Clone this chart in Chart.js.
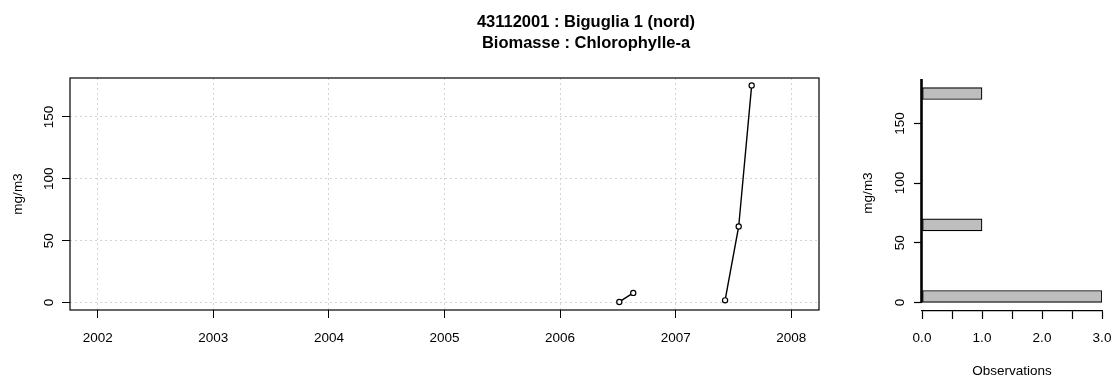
<!DOCTYPE html>
<html>
<head>
<meta charset="utf-8">
<title>43112001 : Biguglia 1 (nord)</title>
<script src="https://cdn.jsdelivr.net/npm/chart.js@4.4.1/dist/chart.umd.min.js"></script>
<style>
  html, body { margin: 0; padding: 0; background: #fff; }
  #wrap { position: relative; width: 1114px; height: 378px; overflow: hidden; }
  #serie { position: absolute; left: 0; top: 0; }
  #histo { position: absolute; left: 840px; top: 0; }
</style>
</head>
<body>
<div id="wrap">
  <canvas id="serie" width="840" height="378"></canvas>
  <canvas id="histo" width="274" height="378"></canvas>
</div>
<script>
// Station and parameter
const titleLines = ['43112001 : Biguglia 1 (nord)', 'Biomasse : Chlorophylle-a'];
const unitLabel = 'mg/m3';
const countLabel = 'Observations';

// Chlorophyll-a samples, one array pair per summer campaign
const dates2006 = ['2006-07-07', '2006-08-20'];
const values2006 = [0.5, 7.8];
const dates2007 = ['2007-06-06', '2007-07-19', '2007-08-29'];
const values2007 = [1.8, 61.5, 175.5];

// Axis ticks of the time series
const yearTicks = [2002, 2003, 2004, 2005, 2006, 2007, 2008];
const concTicks = [0, 50, 100, 150];

// Distribution of the values in 10 mg/m3 classes
const binMids = [5, 15, 25, 35, 45, 55, 65, 75, 85, 95, 105, 115, 125, 135, 145, 155, 165, 175];
const binCounts = [3, 0, 0, 0, 0, 0, 1, 0, 0, 0, 0, 0, 0, 0, 0, 0, 0, 1];
const countTicks = [0, 0.5, 1, 1.5, 2, 2.5, 3];
const countTickLabels = ['0.0', '', '1.0', '', '2.0', '', '3.0'];

const FONT = '"Liberation Sans", Arial, Helvetica, sans-serif';
const TICK_SIZE = 13.5;

Chart.defaults.font.family = FONT;
Chart.defaults.font.size = TICK_SIZE;
Chart.defaults.color = '#000';

// date string -> fractional year
function toYear(s) {
  const [y, m, d] = s.split('-').map(Number);
  const t = Date.UTC(y, m - 1, d);
  const a = Date.UTC(y, 0, 1);
  const b = Date.UTC(y + 1, 0, 1);
  return y + (t - a) / (b - a);
}
const toPoints = (dates, values) => dates.map((d, i) => ({ x: toYear(d), y: values[i] }));

function rotatedText(ctx, text, x, y, font) {
  ctx.save();
  ctx.translate(x, y);
  ctx.rotate(-Math.PI / 2);
  ctx.font = font;
  ctx.fillStyle = '#000';
  ctx.textAlign = 'center';
  ctx.textBaseline = 'middle';
  ctx.fillText(text, 0, 0);
  ctx.restore();
}

// keep the plot area fixed: no extra room for edge tick labels
function fixBottomAxis(s) {
  s.height = 40;
  s.paddingLeft = 0;
  s.paddingRight = 0;
}

const lineStyle = {
  borderColor: '#000',
  borderWidth: 1.4,
  pointRadius: 2.6,
  pointBorderWidth: 1.2,
  pointBorderColor: '#000',
  pointBackgroundColor: '#fff',
  tension: 0,
  fill: false
};

// Frame, rotated y labels and titles of the time series panel
const seriePlugin = {
  id: 'serieDecor',
  afterDraw(chart) {
    const { ctx, chartArea: a, scales } = chart;
    ctx.save();
    ctx.strokeStyle = '#000';
    ctx.lineWidth = 1.2;
    ctx.strokeRect(a.left, a.top, a.right - a.left, a.bottom - a.top);
    ctx.restore();
    const f = TICK_SIZE + 'px ' + FONT;
    scales.y.ticks.forEach(t => rotatedText(ctx, String(t.value), 49, scales.y.getPixelForValue(t.value), f));
    rotatedText(ctx, unitLabel, 18, (a.top + a.bottom) / 2, f);
    ctx.save();
    ctx.font = 'bold 16.5px ' + FONT;
    ctx.fillStyle = '#000';
    ctx.textAlign = 'center';
    ctx.textBaseline = 'middle';
    ctx.fillText(titleLines[0], 586, 22);
    ctx.fillText(titleLines[1], 586, 43);
    ctx.restore();
  }
};

new Chart(document.getElementById('serie'), {
  type: 'line',
  data: {
    datasets: [
      Object.assign({ label: '2006', data: toPoints(dates2006, values2006) }, lineStyle),
      Object.assign({ label: '2007', data: toPoints(dates2007, values2007) }, lineStyle)
    ]
  },
  options: {
    responsive: false,
    devicePixelRatio: 1,
    animation: false,
    events: [],
    layout: { padding: { left: 30, right: 21, top: 78, bottom: 28 } },
    plugins: { legend: { display: false }, tooltip: { enabled: false }, title: { display: false } },
    scales: {
      x: {
        type: 'linear',
        min: 2001.76,
        max: 2008.24,
        afterBuildTicks: s => { s.ticks = yearTicks.map(v => ({ value: v })); },
        afterFit: fixBottomAxis,
        ticks: { autoSkip: false, maxRotation: 0, padding: 12, callback: v => String(v) },
        grid: { color: '#d3d3d3', lineWidth: 1, tickColor: '#000', tickLength: 8, tickWidth: 1 },
        border: { display: false, dash: [2, 3] }
      },
      y: {
        type: 'linear',
        min: -6,
        max: 181.5,
        afterBuildTicks: s => { s.ticks = concTicks.map(v => ({ value: v })); },
        afterFit: s => { s.width = 40; },
        ticks: { display: false },
        grid: { color: '#d3d3d3', lineWidth: 1, tickColor: '#000', tickLength: 8, tickWidth: 1 },
        border: { display: false, dash: [2, 3] }
      }
    }
  },
  plugins: [seriePlugin]
});

// Axis line along the zero count, rotated labels of the distribution panel
const histoPlugin = {
  id: 'histoDecor',
  afterDraw(chart) {
    const { ctx, chartArea: a, scales } = chart;
    const f = TICK_SIZE + 'px ' + FONT;
    ctx.save();
    ctx.strokeStyle = '#000';
    ctx.lineWidth = 2.6;
    ctx.beginPath();
    ctx.moveTo(a.left - 0.5, scales.y.getPixelForValue(0));
    ctx.lineTo(a.left - 0.5, a.top);
    ctx.stroke();
    ctx.restore();
    scales.y.ticks.forEach(t => rotatedText(ctx, String(t.value), 60, scales.y.getPixelForValue(t.value), f));
    rotatedText(ctx, unitLabel, 28, (a.top + a.bottom) / 2 - 2, f);
    ctx.save();
    ctx.font = f;
    ctx.fillStyle = '#000';
    ctx.textAlign = 'center';
    ctx.textBaseline = 'middle';
    ctx.fillText(countLabel, (a.left + a.right) / 2, 371);
    ctx.restore();
  }
};

new Chart(document.getElementById('histo'), {
  type: 'bar',
  data: {
    datasets: [{
      label: countLabel,
      data: binMids.map((m, i) => ({ x: binCounts[i], y: m })),
      backgroundColor: '#bebebe',
      borderColor: '#000',
      borderWidth: 1.2,
      borderSkipped: false,
      barPercentage: 1,
      categoryPercentage: 1
    }]
  },
  options: {
    indexAxis: 'y',
    responsive: false,
    devicePixelRatio: 1,
    animation: false,
    events: [],
    layout: { padding: { left: 62, right: 12, top: 79, bottom: 27 } },
    plugins: { legend: { display: false }, tooltip: { enabled: false }, title: { display: false } },
    scales: {
      x: {
        type: 'linear',
        min: 0,
        max: 3,
        afterBuildTicks: s => { s.ticks = countTicks.map(v => ({ value: v })); },
        afterFit: fixBottomAxis,
        ticks: { autoSkip: false, maxRotation: 0, padding: 11, callback: (v, i) => countTickLabels[i] },
        grid: { drawOnChartArea: false, tickColor: '#000', tickLength: 8, tickWidth: 1.2 },
        border: { display: true, color: '#000', width: 1.2 }
      },
      y: {
        type: 'linear',
        offset: false,
        min: -7.2,
        max: 187.2,
        afterBuildTicks: s => { s.ticks = concTicks.map(v => ({ value: v })); },
        afterFit: s => { s.width = 20; },
        ticks: { display: false },
        grid: { offset: false, drawOnChartArea: false, tickColor: '#000', tickLength: 8, tickWidth: 1.2 },
        border: { display: false }
      }
    }
  },
  plugins: [histoPlugin]
});
</script>
</body>
</html>
